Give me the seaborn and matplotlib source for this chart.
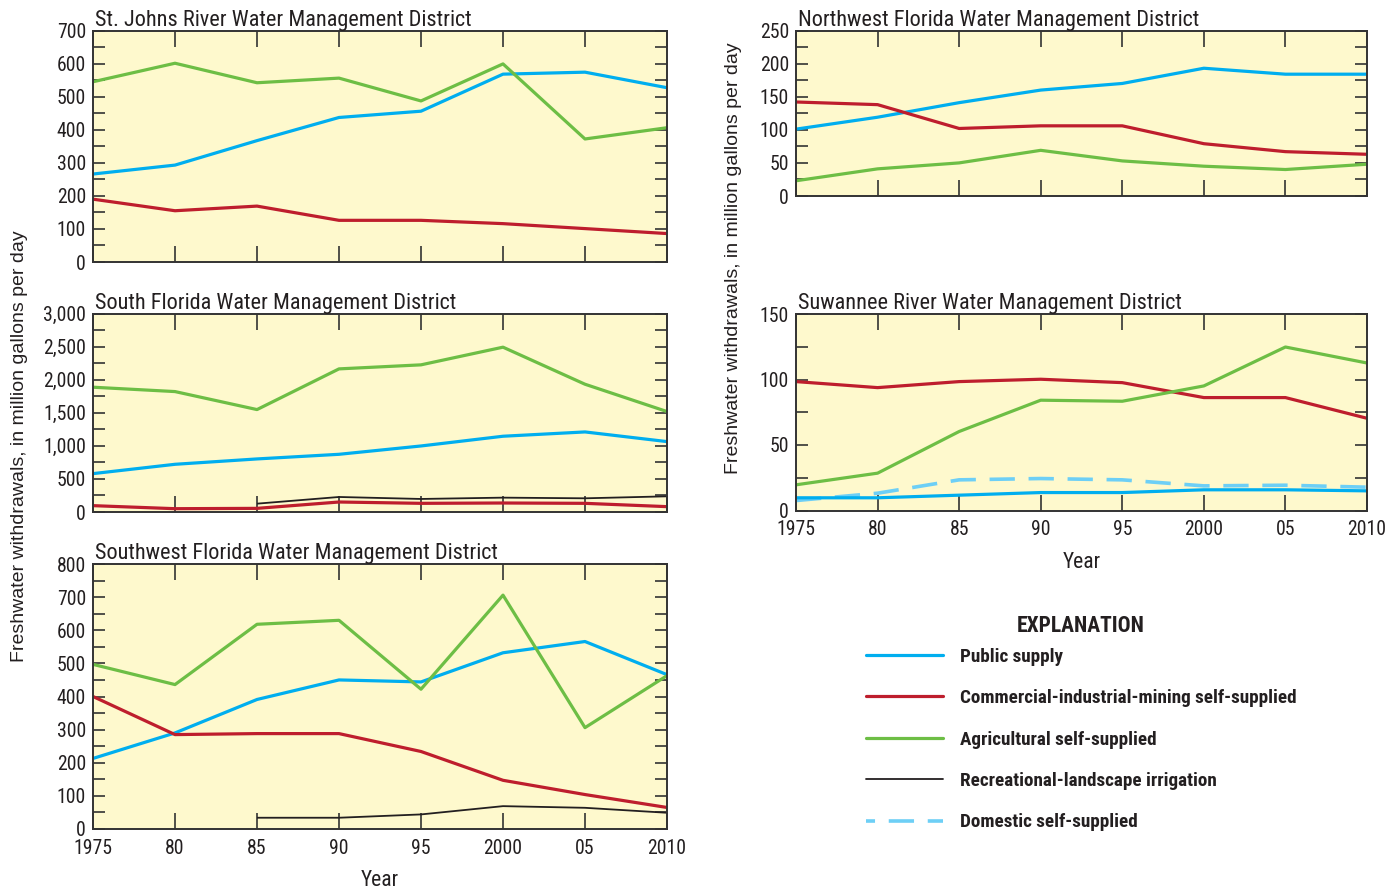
import numpy as np
import pandas as pd
import matplotlib
matplotlib.use("Agg")
import matplotlib.pyplot as plt
from matplotlib.lines import Line2D
from matplotlib.ticker import MultipleLocator, FuncFormatter
from matplotlib import font_manager as fm
import seaborn as sns

nan = np.nan

years = [1975, 1980, 1985, 1990, 1995, 2000, 2005, 2010]
year_labels = ["1975", "80", "85", "90", "95", "2000", "05", "2010"]

# St. Johns River Water Management District
sj_public = [266, 293, 367, 437, 456, 568, 574, 527]
sj_commercial = [190, 155, 169, 126, 126, 116, 101, 86]
sj_agricultural = [545, 601, 542, 556, 487, 599, 372, 406]

# South Florida Water Management District
sf_public = [580, 721, 802, 872, 998, 1145, 1210, 1064]
sf_commercial = [96, 50, 55, 151, 131, 136, 131, 81]
sf_agricultural = [1886, 1820, 1548, 2163, 2224, 2491, 1931, 1518]
sf_recreational = [nan, nan, 126, 227, 197, 217, 207, 237]

# Southwest Florida Water Management District
sw_public = [213, 290, 391, 450, 444, 532, 566, 466]
sw_commercial = [400, 285, 288, 288, 234, 147, 104, 65]
sw_agricultural = [497, 436, 618, 630, 422, 706, 306, 463]
sw_recreational = [nan, nan, 34, 34, 44, 69, 64, 49]

# Northwest Florida Water Management District
nw_public = [101, 119, 141, 160, 170, 193, 184, 184]
nw_commercial = [142, 138, 102, 106, 106, 79, 67, 63]
nw_agricultural = [23, 41, 50, 69, 53, 45, 40, 48]

# Suwannee River Water Management District
sr_public = [9.7, 9.7, 11.7, 13.7, 13.7, 15.8, 15.8, 15.0]
sr_commercial = [98.4, 93.8, 98.4, 100.2, 97.6, 86.2, 86.2, 70.4]
sr_agricultural = [19.6, 28.5, 60.3, 84.2, 83.4, 95.1, 124.8, 112.6]
sr_domestic = [7.6, 13.2, 23.4, 24.4, 23.4, 18.8, 19.3, 17.8]

categories = [
    "Public supply",
    "Commercial-industrial-mining self-supplied",
    "Agricultural self-supplied",
    "Recreational-landscape irrigation",
    "Domestic self-supplied",
]

styles = {
    "Public supply": dict(color="#00AEEF", lw=2.3, dash=None),
    "Commercial-industrial-mining self-supplied": dict(color="#BE1E2D", lw=2.3, dash=None),
    "Agricultural self-supplied": dict(color="#6DBE45", lw=2.3, dash=None),
    "Recreational-landscape irrigation": dict(color="#231F20", lw=1.3, dash=None),
    "Domestic self-supplied": dict(color="#6DCFF6", lw=2.6, dash=(7, 3.8)),
}

sns.set_style("ticks")

# pick a condensed face if one is installed
names = {f.name for f in fm.fontManager.ttflist}
cond_candidates = ["Liberation Sans Narrow", "DejaVu Sans Condensed", "Roboto Condensed",
                   "Open Sans Condensed", "Noto Sans Display", "Noto Sans"]
cond = [n for n in cond_candidates if n in names]
NARROW = (cond[:1] or []) + ["DejaVu Sans"]
REGULAR = ["Liberation Sans", "DejaVu Sans"]
plt.rcParams["font.family"] = NARROW
plt.rcParams["font.stretch"] = "condensed"
plt.rcParams["axes.linewidth"] = 1.4

BG = "#FEF9CD"
SPINE = "#333333"
INK = "#231F20"

W, H = 1397, 893
fig = plt.figure(figsize=(W / 100, H / 100), dpi=100)


def px_axes(x0, x1, ytop, ybot):
    return fig.add_axes([x0 / W, (H - ybot) / H, (x1 - x0) / W, (ybot - ytop) / H])


def draw_panel(ax, title, series, ymax, major, show_x):
    ax.set_facecolor(BG)
    for name, vals in series:
        st = styles[name]
        df = pd.DataFrame({"year": years, "value": vals})
        sns.lineplot(data=df, x="year", y="value", ax=ax, color=st["color"],
                     linewidth=st["lw"], solid_capstyle="butt")
        ln = ax.lines[-1]
        if st["dash"] is not None:
            ln.set_linestyle((0, st["dash"]))
            ln.set_dash_capstyle("butt")
    ax.set_xlim(1975, 2010)
    ax.set_ylim(0, ymax)
    ax.set_xticks(years)
    ax.yaxis.set_major_locator(MultipleLocator(major))
    ax.yaxis.set_minor_locator(MultipleLocator(major / 2))
    ax.yaxis.set_major_formatter(FuncFormatter(lambda v, p: f"{int(round(v)):,}"))
    ax.tick_params(axis="x", which="both", direction="in", length=11.5, width=1.2,
                   top=True, bottom=True, color=SPINE, labelsize=14.2, pad=7)
    ax.tick_params(axis="y", which="both", direction="in", length=8.6, width=1.2,
                   left=True, right=True, color=SPINE, labelsize=14.2, pad=5)
    if show_x:
        ax.set_xticklabels(year_labels)
        ax.set_xlabel("Year", fontsize=15.5, labelpad=9, color=INK)
    else:
        ax.set_xticklabels([])
        ax.set_xlabel("")
    ax.set_ylabel("")
    for sp in ax.spines.values():
        sp.set_color(SPINE)
        sp.set_visible(True)
    ax.set_title(title, loc="left", fontsize=16, pad=3, x=0.003, color=INK)
    for t in ax.get_yticklabels() + ax.get_xticklabels():
        t.set_color(INK)


PS, CI, AG, RL, DS = categories

ax1 = px_axes(93, 667, 30.5, 262)
draw_panel(ax1, "St. Johns River Water Management District",
           [(PS, sj_public), (CI, sj_commercial), (AG, sj_agricultural)], 700, 100, False)

ax2 = px_axes(93, 667, 313.5, 512)
draw_panel(ax2, "South Florida Water Management District",
           [(PS, sf_public), (RL, sf_recreational), (CI, sf_commercial), (AG, sf_agricultural)],
           3000, 500, False)

ax3 = px_axes(93, 667, 564, 829)
draw_panel(ax3, "Southwest Florida Water Management District",
           [(PS, sw_public), (CI, sw_commercial), (AG, sw_agricultural), (RL, sw_recreational)],
           800, 100, True)

ax4 = px_axes(796, 1367, 30.5, 196)
draw_panel(ax4, "Northwest Florida Water Management District",
           [(PS, nw_public), (CI, nw_commercial), (AG, nw_agricultural)], 250, 50, False)

ax5 = px_axes(796, 1367, 314, 510.5)
draw_panel(ax5, "Suwannee River Water Management District",
           [(DS, sr_domestic), (PS, sr_public), (CI, sr_commercial), (AG, sr_agricultural)],
           150, 50, True)

ylab = "Freshwater withdrawals, in million gallons per day"
fig.text(20 / W, 1 - 446 / H, ylab, rotation=90, ha="center", va="center",
         fontsize=14, family=REGULAR, stretch="normal", color=INK)
fig.text(733 / W, 1 - 258 / H, ylab, rotation=90, ha="center", va="center",
         fontsize=14, family=REGULAR, stretch="normal", color=INK)

handles = []
for name in categories:
    st = styles[name]
    h = Line2D([], [], color=st["color"], lw=st["lw"])
    if st["dash"] is not None:
        # start the key part-way into a dash so it opens with a short stroke
        h.set_linestyle((4.5, st["dash"]))
        h.set_dash_capstyle("butt")
    handles.append(h)

leg = fig.legend(handles, categories, loc="upper left",
                 bbox_to_anchor=(858 / W, 1 - 607 / H), frameon=False,
                 title="EXPLANATION",
                 prop=dict(family=NARROW, weight="bold", size=13.8, stretch="condensed"),
                 handlelength=4.05, handletextpad=0.85, labelspacing=1.22,
                 borderaxespad=0)
leg.get_title().set_fontproperties(dict(family=NARROW, weight="bold", size=15.5,
                                        stretch="condensed"))
for t in leg.get_texts():
    t.set_color(INK)
leg.get_title().set_color(INK)
leg._legend_box.sep = 8

fig.savefig("out.png", dpi=100, facecolor="white")
